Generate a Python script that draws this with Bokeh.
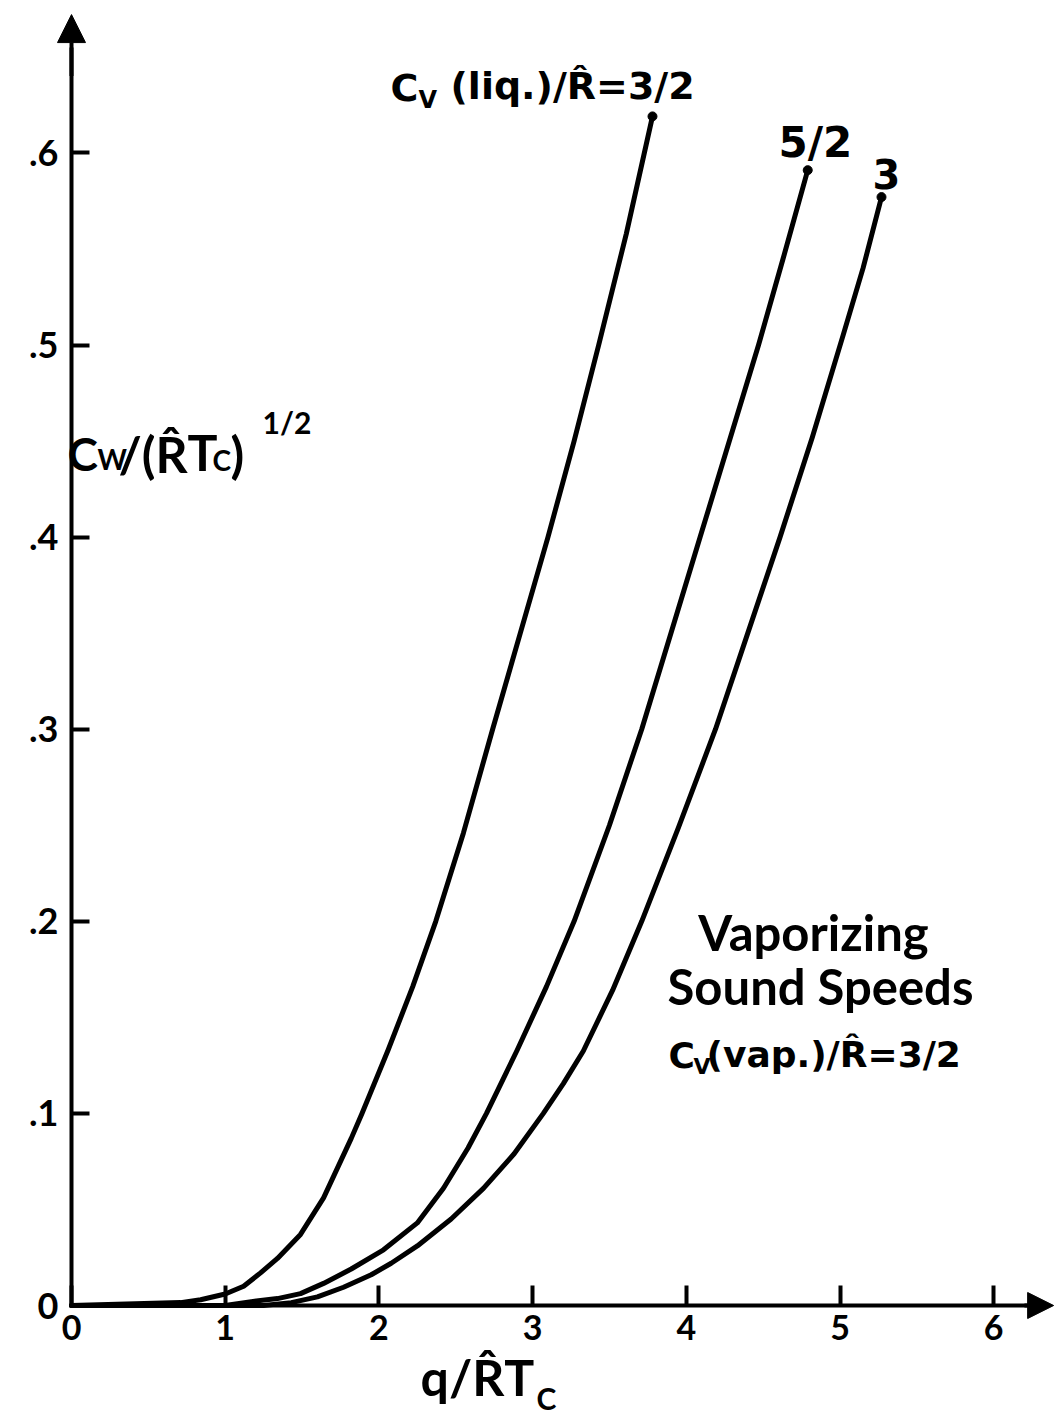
from bokeh.plotting import figure
from bokeh.models import Label, Arrow, NormalHead, FixedTicker, CustomJSTickFormatter, Range1d
from bokeh.embed import file_html
from bokeh.resources import INLINE

# ---- data ----
x_ticks = [0, 1, 2, 3, 4, 5, 6]
y_ticks = [0, 0.1, 0.2, 0.3, 0.4, 0.5, 0.6]

# Cv(liq)/R = 3/2
q_a = [0.00, 0.71, 0.84, 1.00, 1.12, 1.23, 1.34, 1.49, 1.64, 1.82, 1.89, 2.06, 2.22,
       2.37, 2.55, 2.74, 2.92, 3.10, 3.27, 3.43, 3.61, 3.78]
c_a = [0.000, 0.0015, 0.003, 0.006, 0.010, 0.017, 0.0245, 0.037, 0.056, 0.087, 0.100,
       0.133, 0.166, 0.200, 0.246, 0.300, 0.350, 0.400, 0.450, 0.500, 0.558, 0.619]
# Cv(liq)/R = 5/2
q_b = [0.00, 1.00, 1.17, 1.34, 1.49, 1.64, 1.82, 2.03, 2.25, 2.42, 2.58, 2.70, 2.90,
       3.09, 3.27, 3.50, 3.71, 3.90, 4.09, 4.28, 4.47, 4.63, 4.79]
c_b = [0.000, 0.000, 0.002, 0.0036, 0.0062, 0.0115, 0.019, 0.029, 0.043, 0.061, 0.082,
       0.100, 0.133, 0.166, 0.200, 0.250, 0.300, 0.350, 0.400, 0.450, 0.500, 0.545, 0.591]
# Cv(liq)/R = 3
q_c = [0.00, 1.25, 1.43, 1.60, 1.77, 1.95, 2.08, 2.25, 2.47, 2.68, 2.88, 3.07, 3.20,
       3.33, 3.52, 3.71, 3.95, 4.19, 4.40, 4.61, 4.82, 5.02, 5.15, 5.27]
c_c = [0.000, 0.000, 0.0015, 0.0045, 0.0095, 0.016, 0.022, 0.031, 0.045, 0.061, 0.079,
       0.100, 0.1155, 0.1325, 0.164, 0.200, 0.249, 0.300, 0.350, 0.400, 0.452, 0.505,
       0.540, 0.577]

SANS = "Lato"
DJ = "DejaVu Sans"
R_HAT = "R\u0302"

# layout: data origin sits at pixel (71, 1305); 153.7 px per x unit, 1921 px per y unit
W, H = 1055, 1424
OX, OY, SX, SY = 71.0, 1305.0, 153.7, 1921.0

p = figure(width=W, height=H,
           x_range=Range1d(-OX / SX, (W - OX) / SX),
           y_range=Range1d(-(H - OY) / SY, OY / SY),
           output_backend="svg", toolbar_location=None,
           min_border_left=0, min_border_right=0,
           min_border_top=0, min_border_bottom=0)
p.title.visible = False
p.outline_line_color = None
p.grid.visible = False

for ax in (p.xaxis[0], p.yaxis[0]):
    ax.fixed_location = 0
    ax.axis_line_width = 4
    ax.axis_line_color = "black"
    ax.major_tick_line_width = 4
    ax.major_tick_line_color = "black"
    ax.minor_tick_line_color = None
    ax.major_tick_out = 0
    ax.major_label_text_font = SANS
    ax.major_label_text_font_style = "bold"
    ax.major_label_text_color = "black"

p.xaxis.ticker = FixedTicker(ticks=x_ticks)
p.xaxis.major_tick_in = 20
p.xaxis.major_label_standoff = 9
p.xaxis.major_label_text_font_size = "34px"
p.xaxis.bounds = (0, 6.25)

p.yaxis.ticker = FixedTicker(ticks=y_ticks)
p.yaxis.major_tick_in = 18
p.yaxis.major_label_standoff = 13
p.yaxis.major_label_text_font_size = "36px"
p.yaxis.bounds = (0, 0.655)
p.yaxis.formatter = CustomJSTickFormatter(
    code="return tick == 0 ? '0' : '.' + Math.round(tick * 10);")

# axis arrow heads
p.add_layout(Arrow(end=NormalHead(size=28, fill_color="black", line_color="black"),
                   x_start=0, y_start=0.64, x_end=0, y_end=0.672,
                   line_width=4, line_color="black"))
p.add_layout(Arrow(end=NormalHead(size=26, fill_color="black", line_color="black"),
                   x_start=6.2, y_start=0, x_end=6.39, y_end=0,
                   line_width=4, line_color="black"))

# curves
for qx, cy in ((q_a, c_a), (q_b, c_b), (q_c, c_c)):
    p.line(qx, cy, line_width=5, line_color="black", line_join="round", line_cap="round")
    p.scatter([qx[-1]], [cy[-1]], size=9, fill_color="black", line_color="black")


def lab(px, py, text, size, font=SANS, align="left"):
    """px = left/centre pixel, py = baseline pixel (converted to data units)."""
    py_adj = py - 0.37 * size
    p.add_layout(Label(x=(px - OX) / SX, y=(OY - py_adj) / SY, text=text,
                       text_font=font, text_font_style="bold",
                       text_font_size=f"{size}px", text_color="black",
                       text_align=align, text_baseline="alphabetic"))


# curve labels
lab(390, 102, "C", 38, DJ)
lab(418, 108, "V", 24, DJ)
lab(450, 100, "(liq.)/" + R_HAT + "=3/2", 38, DJ)
lab(778, 158, "5/2", 42, DJ)
lab(872, 188, "3", 40, DJ)

# y-axis title
lab(67, 470, "C", 46)
lab(97, 469, "W", 28)
lab(118, 472, "/(" + R_HAT, 50)
lab(187, 470, "T", 50)
lab(212, 470, "C", 28)
lab(230, 472, ")", 50)
lab(262, 433, "1/2", 30)

# x-axis title
lab(420, 1395, "q/" + R_HAT + "T", 50)
lab(536, 1409, "C", 30)

# annotation block
lab(813, 950, "Vaporizing", 49, SANS, "center")
lab(820, 1004, "Sound Speeds", 49, SANS, "center")
lab(668, 1068, "C", 36, DJ)
lab(693, 1074, "V", 22, DJ)
lab(706, 1067, "(vap.)/" + R_HAT + "=3/2", 36, DJ)

open("out.html", "w").write(file_html(p, INLINE))
